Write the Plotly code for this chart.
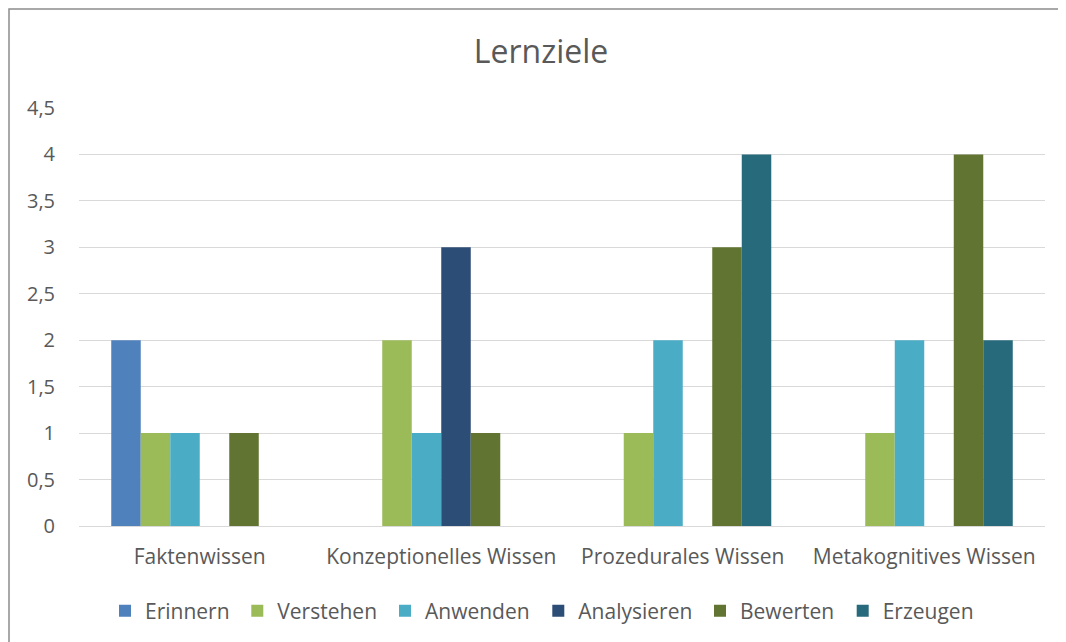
import plotly.graph_objects as go

categories = ["Faktenwissen", "Konzeptionelles Wissen", "Prozedurales Wissen", "Metakognitives Wissen"]
series_names = ["Erinnern", "Verstehen", "Anwenden", "Analysieren", "Bewerten", "Erzeugen"]
erinnern = [2, 0, 0, 0]
verstehen = [1, 2, 1, 1]
anwenden = [1, 1, 2, 2]
analysieren = [0, 3, 0, 0]
bewerten = [1, 1, 3, 4]
erzeugen = [0, 0, 4, 2]
colors = ["#4F81BD", "#9BBB59", "#4BACC6", "#2C4D75", "#617431", "#276A7C"]
tick_vals = [0, 0.5, 1, 1.5, 2, 2.5, 3, 3.5, 4, 4.5]
tick_text = ["0", "0,5", "1", "1,5", "2", "2,5", "3", "3,5", "4", "4,5"]

all_values = [erinnern, verstehen, anwenden, analysieren, bewerten, erzeugen]

FONT = "Open Sans"
TXT = "#595959"

# per-entry legend widths (layout only), chosen to match the swatch spacing
legend_entry_widths = [87.3, 102.7, 108.3, 116.7, 97.7, 95]

OFF = 8
W, H = 1066, 642
ml = 79 - OFF
mr = W + OFF - 1045
mt = 108 - OFF
mb = H + OFF - 526
pw = W - ml - mr
ph = H - mt - mb

def px_x(p):
    return (p - OFF - ml) / pw

def px_y(p):
    return (H + OFF - mb - p) / ph

fig = go.Figure()
for name, vals, col, lw in zip(series_names, all_values, colors, legend_entry_widths):
    fig.add_trace(go.Bar(x=categories, y=vals, name=name, legendwidth=lw,
                         marker=dict(color=col, line=dict(width=0))))

fig.update_layout(
    width=W, height=H,
    margin=dict(l=ml, r=mr, t=mt, b=mb, autoexpand=False),
    paper_bgcolor="white", plot_bgcolor="white",
    barmode="group", bargap=0.267, bargroupgap=0,
    font=dict(family=FONT, color=TXT, size=20),
    title=dict(text="Lernziele", xref="container", x=(541 - OFF) / W, xanchor="center",
               yref="container", y=1 - (52 - OFF) / H, yanchor="middle",
               font=dict(family=FONT, size=32, color=TXT)),
    xaxis=dict(showgrid=False, showline=False, ticks="", tickfont=dict(size=21, color=TXT),
               ticklabelstandoff=16),
    yaxis=dict(range=[0, 4.5], tickvals=tick_vals, ticktext=tick_text, showgrid=True,
               gridcolor="#D9D9D9", gridwidth=1, zeroline=True, zerolinecolor="#D9D9D9",
               zerolinewidth=1, showline=False, ticks="", tickfont=dict(size=20, color=TXT),
               ticklabelstandoff=23),
    legend=dict(orientation="h", x=px_x(105), xanchor="left", y=px_y(611), yanchor="middle",
                font=dict(size=21, color=TXT), itemwidth=30, traceorder="normal",
                bgcolor="rgba(0,0,0,0)"),
    shapes=[dict(type="rect", xref="paper", yref="paper", x0=px_x(9), x1=px_x(1080),
                 y0=px_y(670), y1=px_y(9), line=dict(color="#8C8C8C", width=1.5), layer="below")],
)

fig.write_html("out.html")
